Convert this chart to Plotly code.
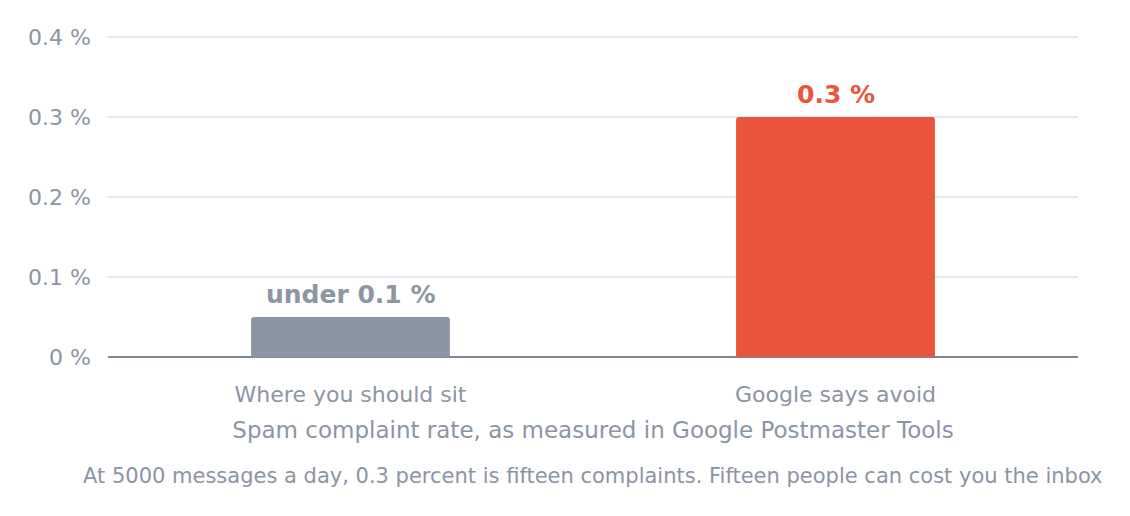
import plotly.graph_objects as go

categories = ["Where you should sit", "Google says avoid"]
rates = [0.05, 0.3]
bar_labels = ["under 0.1 %", "0.3 %"]
bar_colors = ["#8b95a3", "#e9553b"]
y_ticks = [0, 0.1, 0.2, 0.3, 0.4]
y_tick_text = ["0 %", "0.1 %", "0.2 %", "0.3 %", "0.4 %"]

grey = "#8b94a3"

fig = go.Figure()

fig.add_trace(go.Bar(
    x=categories,
    y=rates,
    marker=dict(color=bar_colors, cornerradius=3, line=dict(width=0)),
    width=0.41,
    hoverinfo="skip",
))

# value labels above the bars
for cat, val, lab, col in zip(categories, rates, bar_labels, bar_colors):
    fig.add_annotation(
        x=cat, y=val, text=f"<b>{lab}</b>",
        xanchor="center", yanchor="bottom", yshift=6,
        showarrow=False,
        font=dict(size=25, color=col),
    )

fig.add_annotation(
    text="At 5000 messages a day, 0.3 percent is fifteen complaints. Fifteen people can cost you the inbox",
    xref="paper", yref="paper",
    x=0.5, y=-0.363,
    xanchor="center", yanchor="middle",
    showarrow=False,
    font=dict(size=21, color=grey),
)

# page body has an 8px margin, so margins are shifted by that;
# range goes a bit past 0.4 so the top gridline is drawn
fig.update_layout(
    width=1130,
    height=516,
    margin=dict(l=100, r=60, t=21, b=167),
    plot_bgcolor="white",
    paper_bgcolor="white",
    font=dict(family="DejaVu Sans", color=grey),
    showlegend=False,
    xaxis=dict(
        title=dict(text="Spam complaint rate, as measured in Google Postmaster Tools",
                   font=dict(size=23, color=grey), standoff=15),
        tickfont=dict(size=22, color=grey),
        showline=False,
        ticks="",
        ticklabelstandoff=22,
    ),
    yaxis=dict(
        range=[0, 0.41],
        tickvals=y_ticks,
        ticktext=y_tick_text,
        tickfont=dict(size=22, color=grey),
        gridcolor="#e6e8eb",
        gridwidth=1.5,
        zeroline=True,
        zerolinecolor="#7d8797",
        zerolinewidth=1.5,
        ticklabelstandoff=16,
    ),
)

fig.write_html("out.html")
